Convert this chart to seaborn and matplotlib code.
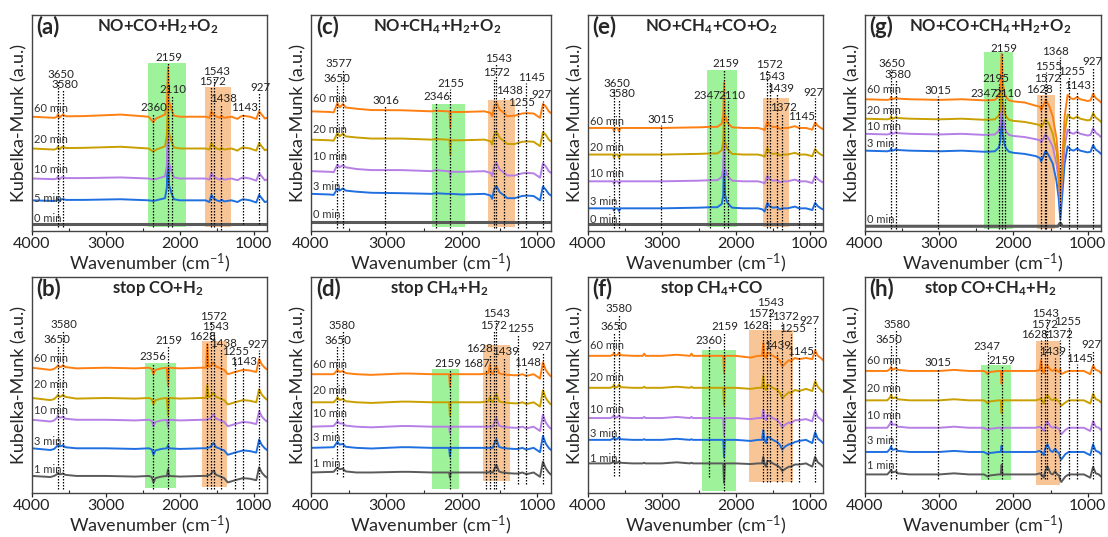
import matplotlib
matplotlib.use("Agg")
import matplotlib.pyplot as plt
import seaborn as sns

# ---------------- data ----------------
# y values are relative to each trace baseline, in % of panel height
flat_x = [4000, 820]
flat_y = [0, 0]

# (a) NO+CO+H2+O2
a_x = [4000, 3700, 3660, 3650, 3630, 3600, 3580, 3540, 3300, 2800,
       2420, 2360, 2320, 2200, 2175, 2159, 2145, 2110, 2080, 2000,
       1650, 1600, 1572, 1545, 1500, 1460, 1438, 1400, 1300, 1220,
       1180, 1143, 1050, 965, 927, 880, 850, 820]
a_60 = [0, -0.5, 0, 1.2, -0.5, 0.5, 1.0, 0.2, 0.3, 1.0,
        0, -2.5, -0.8, 1.0, 6, 23, 7, 3, 0.5, 0,
        0, -0.5, 2.5, 1.0, 0, -0.5, 0.5, -0.5, 0, -1.0,
        0, 0.5, 0, -1.0, 2.5, 0.5, -0.8, -0.5]
a_20 = [0, -0.5, 0, 1.0, -0.5, 0.5, 0.8, 0.2, 0.3, 0.8,
        0, -1.5, -0.5, 1.0, 6, 25, 7, 3, 0.5, 0,
        0, -0.5, 2.5, 1.0, 0, -0.5, 0.3, -0.5, 0, -1.0,
        0, 0.5, 0, -1.0, 2.5, 0.5, -0.8, -0.5]
a_10 = [0, -0.3, 0, 1.0, -0.5, 0.5, 0.6, 0.2, 0.2, 0.5,
        0, -0.5, -0.2, 1.0, 6, 27, 7, 3, 0.5, 0,
        0, -0.5, 2.5, 1.0, 0, -0.5, 0.3, -0.5, 0, -0.8,
        0, 0.5, 0, -1.0, 2.5, 0.5, -0.8, -0.5]
a_5 = [0, -0.3, 0, 1.0, -0.5, 0.5, 0.6, 0.2, 0.2, 0.5,
       0, -0.3, 0, 1.0, 6, 30, 7, 3, 0.5, 0,
       0, -0.8, 2.5, 1.0, 0, -0.5, 0.3, -0.5, 0, -0.8,
       0, 0.5, 0, -1.0, 2.5, 0.5, -0.8, -0.5]
a_offsets = [3.4, 14.2, 24.3, 38.2, 52.9]
a_times = ["0 min", "5 min", "10 min", "20 min", "60 min"]
a_time_y = [5.7, 15.0, 28.6, 42.3, 56.7]

# (c) NO+CH4+H2+O2
c_x = [4000, 3750, 3700, 3650, 3620, 3577, 3540, 3400, 3200, 2800,
       2400, 2346, 2200, 2165, 2155, 2145, 2000, 1700, 1620, 1600,
       1572, 1543, 1500, 1470, 1438, 1400, 1300, 1255, 1200, 1145,
       1050, 965, 927, 890, 850, 820]
c_60 = [0, -0.3, -0.5, 3.8, 1.8, 3.4, 1.8, 1.2, 0.6, 0.5,
        0, 0.3, 0, 0, -7.7, -0.3, -0.3, 0, -0.8, -2.3,
        2.3, 3.8, 0.8, 0, -0.8, -2.3, -2.0, -1.5, -1.0, -0.8,
        -1.0, -3.0, 3.4, 2.3, 0, -0.8]
c_20 = [0, -0.3, -0.5, 3.0, 1.5, 2.8, 1.5, 1.0, 0.5, 0.5,
        0, 0.3, 0, 0, -7.0, -0.3, -0.3, 0, -0.8, -2.3,
        2.3, 3.8, 0.8, 0, -0.8, -2.0, -2.0, -1.5, -1.0, -0.8,
        -1.0, -3.0, 3.4, 2.3, 0, -0.8]
c_10 = [0, -0.3, -0.5, 3.0, 1.8, 2.8, 1.8, 1.0, 0.5, 0.5,
        0, 0.5, 0, 0, -3.0, -0.3, -0.3, 0, -0.8, -2.3,
        2.3, 3.8, 0.8, 0, -0.8, -2.0, -2.0, -1.5, -1.0, -0.8,
        -1.0, -3.0, 3.6, 2.3, 0, -0.8]
c_3 = [0, -0.3, -0.5, 2.5, 1.5, 2.5, 1.5, 1.0, 0.5, 0.3,
       0, 0.3, 0, 0, 0, 0, -0.3, 0, -0.8, -2.3,
       2.3, 3.6, 0.8, 0, -0.8, -2.0, -2.0, -1.5, -1.0, -0.8,
       -1.0, -3.0, 3.4, 2.0, 0, -0.8]
c_offsets = [4.3, 17.2, 27.7, 42.3, 55.4]
c_times = ["0 min", "3 min", "10 min", "20 min", "60 min"]
c_time_y = [7.5, 20.5, 34.6, 47.2, 61.5]

# (e) NO+CH4+CO+O2
e_x = [4000, 3700, 3660, 3650, 3630, 3600, 3580, 3560, 3400, 3000,
       2500, 2347, 2250, 2190, 2170, 2159, 2145, 2120, 2100, 2050,
       1900, 1700, 1640, 1610, 1572, 1545, 1500, 1439, 1400, 1372,
       1300, 1200, 1145, 1050, 965, 927, 890, 850, 820]
e_60 = [0, 0, 0, -1.5, 0, 0, -1.5, 0, 0, 0,
        0.3, 0.5, 0.5, 2, 6, 21, 6, 3, 2, 0.3,
        0, 0, -0.5, -1.0, 3.0, 1.2, 0.5, 0.5, -0.5, 0,
        0, 0.8, 0, 0, -0.8, 2.5, 1.0, 0, -0.5]
e_20 = [0, 0, 0, -1.5, 0, 0, -1.5, 0, 0, 0,
        0.3, 0.5, 0.5, 2, 6, 23, 6, 3, 2, 0.3,
        0, 0, -0.5, -1.0, 3.0, 1.0, 0.3, 0.5, -0.5, 0,
        0, 0.8, 0, 0, -0.8, 2.5, 1.0, 0, -0.5]
e_10 = [0, 0, 0, -1.2, 0, 0, -1.2, 0, 0, 0,
        0.3, 0.5, 0.5, 2, 6, 25, 6, 3, 2, 0.3,
        0, 0, -0.5, -1.0, 2.5, 1.0, 0.3, 0.5, -0.5, 0,
        0, 0.8, 0, 0, -0.8, 2.5, 1.0, 0, -0.5]
e_3 = [0, 0, 0, -1.0, 0, 0, -1.2, 0, 0, 0,
       0.3, 0.5, 0.5, 2, 6, 27, 6, 3, 2, 0.3,
       0, 0, -0.5, -1.5, 2.5, 1.0, 0.3, 0.5, -0.5, 0,
       0, 0.8, 0, 0, -0.8, 2.5, 1.0, 0, -0.5]
e_offsets = [3.4, 10.5, 23.0, 35.4, 47.7]
e_times = ["0 min", "3 min", "10 min", "20 min", "60 min"]
e_time_y = [5.4, 13.8, 26.6, 38.5, 50.5]

# (g) NO+CO+CH4+H2+O2
g_x = [4000, 3700, 3660, 3650, 3630, 3600, 3580, 3560, 3400, 3000,
       2700, 2400, 2347, 2250, 2195, 2175, 2159, 2145, 2120, 2100,
       2060, 2000, 1850, 1700, 1640, 1628, 1600, 1572, 1555, 1520,
       1470, 1420, 1390, 1368, 1345, 1310, 1270, 1230, 1190, 1143,
       1100, 1000, 960, 927, 890, 850, 820]
g_60 = [0, -0.3, 0, 1.0, 0, 0.3, 0.8, 0.3, 0, -0.3,
        0, -0.5, -0.5, -0.3, 1.5, 5, 21, 8, 3, 1,
        -0.5, -1.0, -1.5, -3.0, -3.5, -5.0, -3.0, -1.0, -1.0, -3.0,
        -8, -18, -30, -47, -30, -8, 2, 0.5, 0, 1.0,
        0, -0.8, -0.5, 2.5, 0.5, -0.5, -1.5]
g_20 = [0, -0.3, 0, 1.0, 0, 0.3, 0.8, 0.3, 0, -0.3,
        0, -0.5, -0.5, -0.3, 1.5, 5, 22, 8, 3, 1,
        -0.5, -1.0, -1.5, -2.5, -3.0, -4.0, -2.5, -0.5, -0.8, -2.5,
        -7, -15, -25, -38, -25, -7, 2, 0.5, 0, 1.0,
        0, -0.8, -0.5, 2.5, 0.5, -0.5, -1.5]
g_10 = [0, -0.3, 0, 1.0, 0, 0.3, 0.8, 0.3, 0, -0.3,
        0, -0.5, -0.5, -0.3, 1.5, 5, 23, 8, 3, 1,
        -0.5, -1.0, -1.5, -2.5, -3.0, -4.0, -2.5, -0.5, -0.8, -2.5,
        -6, -14, -22, -33, -22, -6, 2, 0.5, 0, 1.0,
        0, -0.8, -0.5, 2.5, 0.5, -0.5, -1.5]
g_3 = [0, -0.3, 0, 1.0, 0, 0.3, 0.8, 0.3, 0, -0.3,
       0, -0.5, -0.5, -0.3, 1.5, 5, 25, 8, 3, 1,
       -0.5, -1.0, -1.5, -2.5, -3.5, -5.0, -3.0, -0.5, -0.5, -2.5,
       -6, -14, -22, -32, -22, -6, 2, 0.5, 0, 1.0,
       0, -0.8, -0.5, 2.5, 0.5, -0.5, -1.5]
g_0x = [4000, 1400, 1368, 1340, 820]
g_0 = [0, 0, 1.5, 0, 0]
g_offsets = [2.2, 37.2, 45.0, 52.0, 61.0]
g_times = ["0 min", "3 min", "10 min", "20 min", "60 min"]
g_time_y = [5.1, 40.3, 48.4, 55.8, 65.4]

# (b) stop CO+H2
b_x = [4000, 3750, 3700, 3660, 3650, 3630, 3600, 3580, 3550, 3400,
       3000, 2600, 2420, 2380, 2356, 2330, 2250, 2175, 2159, 2145,
       2000, 1700, 1645, 1628, 1612, 1590, 1572, 1543, 1510, 1470,
       1438, 1400, 1350, 1300, 1255, 1200, 1143, 1050, 965, 927,
       890, 850, 820]
b_60 = [0, -1.0, -0.5, 0.5, 1.2, 0.3, 0.5, 1.2, 0.3, -0.3,
        0, -0.3, 0, -0.5, -3.0, -1.0, -0.3, 0, -8.5, 0,
        -0.3, 0, 0, 11, 0.5, 0.5, 1.2, 2.5, 0.5, 0,
        -0.5, -1.0, -3.0, -2.5, -2.0, -1.5, -1.0, -1.3, -2.0, 4.0,
        1.5, 0, -0.8]
b_20 = [0, -1.0, -0.5, 0.8, 1.5, 0.5, 0.8, 1.5, 0.5, -0.3,
        0, -0.3, 0, -0.5, -3.0, -1.0, -0.3, 0, -8.0, 0,
        -0.3, 0, 0, 6, 0.5, 0.5, 1.2, 2.5, 0.5, 0,
        -0.5, -1.0, -3.0, -2.5, -2.0, -1.5, -1.0, -1.3, -2.0, 4.0,
        1.5, 0, -0.8]
b_10 = [0, -0.8, -0.3, 1.0, 2.0, 1.0, 1.0, 1.5, 0.5, 0,
        0, -0.3, 0, -0.5, -3.0, -1.0, -0.3, 0, -3.5, 0,
        -0.3, 0, 0, 0.3, 0.3, 0.5, 1.2, 2.5, 0.5, 0,
        -0.5, -1.0, -3.0, -2.5, -2.0, -1.5, -1.0, -1.3, -2.0, 4.0,
        1.5, 0, -0.8]
b_3 = [0, -0.8, -0.3, 1.0, 2.0, 1.0, 1.0, 1.5, 0.5, 0,
       0, -0.3, 0, -0.5, -3.0, -1.0, -0.3, 0, 1.5, 0,
       -0.3, 0, 0, 0.3, 0.3, 0.5, 1.2, 2.5, 0.5, 0,
       -0.5, -1.0, -3.0, -2.5, -2.0, -1.5, -1.0, -1.3, -2.0, 4.0,
       1.5, 0, -0.8]
b_1 = [0, -0.5, 0, 0.8, 1.5, 0.8, 0.8, 1.2, 0.5, 0,
       0, -0.3, 0, -0.5, -3.0, -1.0, -0.3, 0, 3.0, 0,
       -0.3, 0, 0, 0.3, 0.3, 0.5, 1.2, 2.5, 0.5, 0,
       -0.5, -1.0, -3.0, -2.5, -2.0, -1.5, -1.0, -1.3, -2.0, 4.0,
       1.5, 0, -0.8]
b_offsets = [7.9, 20.7, 33.9, 44.0, 58.0]
b_times = ["1 min", "3 min", "10 min", "20 min", "60 min"]
b_time_y = [11.0, 23.8, 38.3, 50.2, 62.2]

# (d) stop CH4+H2
d_x = [4000, 3700, 3660, 3650, 3620, 3580, 3540, 3400, 3200, 2800,
       2700, 2400, 2200, 2170, 2159, 2148, 2000, 1750, 1687, 1650,
       1628, 1610, 1590, 1572, 1543, 1510, 1470, 1439, 1400, 1300,
       1255, 1200, 1148, 1050, 965, 927, 890, 850, 820]
d_60 = [0, 0, 1.5, 2.0, 1.0, 1.5, 0.5, 0, -0.3, 0.3,
        0.3, 0, 0, 0, -6.0, 0, 0, 0, 0.3, 0.5,
        4.5, 0.5, 0, 2.0, 3.5, 0.5, 0, 0, -0.3, -0.5,
        -0.5, 0, -0.8, 0, -2.0, 5.5, 2.0, 0, -1.0]
d_20 = [0, 0, 1.5, 2.3, 1.0, 1.5, 0.5, 0, -0.3, 0.3,
        0.3, 0, 0, 0, -6.5, 0, 0, 0, 0.3, 0.5,
        2.5, 0.5, 0, 2.0, 3.8, 0.5, 0, 0, -0.3, -0.5,
        -0.5, 0, -0.8, 0, -2.0, 5.5, 2.0, 0, -1.0]
d_10 = [0, 0.3, 2.0, 2.5, 1.5, 1.5, 0.5, 0, -0.3, 0.3,
        0.3, 0, 0, 0, -3.0, 0, 0, 0, 0, 0,
        0, 0, 0, 2.0, 4.0, 0.5, 0, 0, -0.3, -0.5,
        -0.5, 0, -0.8, 0, -2.0, 5.5, 2.0, 0, -1.0]
d_3 = [0, 0.3, 2.3, 2.8, 1.5, 1.8, 0.5, 0, -0.3, 0.3,
       0.3, 0, 0, 0, -4.0, 0, 0, 0, 0, 0,
       0, 0, 0, 2.0, 4.0, 0.5, 0, 0, -0.3, -0.5,
       -0.5, 0, -0.8, 0, -2.0, 5.5, 2.0, 0, -1.0]
d_1 = [0, 0.3, 2.0, 2.3, 1.5, 1.8, 0.5, 0, 0, 0.3,
       0.3, 0, 0, 0, -2.5, 0, 0, 0, 0, 0,
       0.5, 0, 0, 1.5, 3.5, 0.5, 0, 0, -0.3, -0.5,
       -0.5, 0, -0.8, 0, -2.0, 5.0, 2.0, 0, -1.0]
d_offsets = [9.5, 20.9, 30.7, 42.0, 55.0]
d_times = ["1 min", "3 min", "10 min", "20 min", "60 min"]
d_time_y = [13.6, 25.6, 36.9, 47.3, 59.4]

# (f) stop CH4+CO
f_x = [4000, 3700, 3660, 3650, 3630, 3600, 3580, 3560, 3400, 3260,
       3240, 3220, 3000, 2800, 2620, 2600, 2580, 2400, 2360, 2200,
       2170, 2159, 2148, 2000, 1800, 1700, 1645, 1628, 1612, 1590,
       1572, 1543, 1500, 1439, 1400, 1372, 1330, 1280, 1255, 1200,
       1145, 1050, 965, 927, 890, 850, 820]
f_60 = [0, 0, 0.5, 1.5, 0, 0.5, 1.5, 0.3, 0, 0,
        1.0, 0, 0, 0.5, 0, 1.0, 0, 0, 0, 0,
        0, -8.0, 0, 0, -0.8, 0, 0, 6.0, 0, -1.0,
        1.5, 1.0, 0, -1.0, -2.5, -5.0, -3.5, -2.0, -2.5, -1.0,
        -1.5, -1.0, -1.5, 2.5, 0, -1.0, -2.0]
f_20 = [0, 0, 0.5, 1.5, 0, 0.5, 1.5, 0.3, 0, 0,
        0.5, 0, 0, 0.5, 0, 0.5, 0, 0, 0, 0,
        0, -8.0, 0, 0, -0.5, 0, 0, 5.5, 0, -1.0,
        1.5, 1.0, 0, -1.0, -2.5, -5.0, -3.5, -2.0, -2.5, -1.0,
        -1.5, -0.5, -1.5, 3.0, 0.5, -1.0, -2.0]
f_10 = [0, 0, 0.5, 1.5, 0, 0.5, 1.3, 0.3, 0, 0,
        0.5, 0, 0, 0.5, 0, 0.5, 0, 0, 0, 0,
        0, -8.0, 0, 0, -0.5, 0, 0, 4.0, 0, -1.0,
        1.5, 1.0, 0, -1.0, -2.5, -4.5, -3.0, -2.0, -2.5, -1.0,
        -1.0, -0.5, -1.5, 3.5, 0.5, -0.5, -1.5]
f_3 = [0, 0, 0.5, 1.5, 0, 0.5, 1.3, 0.3, 0, 0,
       0.3, 0, 0, 0.5, 0, 0.3, 0, 0, 0, 0,
       0, -8.0, 0, 0, -0.5, 0, 0, 4.5, 0, -1.5,
       1.5, 1.0, 0, -1.0, -2.5, -4.5, -3.0, -2.0, -2.0, -1.0,
       -0.5, 0, -1.5, 3.5, 0.5, -0.5, -1.5]
f_1 = [0, 0, 0.5, 1.2, 0, 0.3, 1.0, 0.3, 0, 0,
       0.3, 0, 0, 0.5, 0, 0.3, 0, 0, 0, 0,
       0, -9.0, 0, 0, -0.3, 0, 0, 3.0, 0, -1.5,
       1.2, 1.0, 0, -1.0, -2.0, -3.5, -2.5, -1.5, -1.5, -0.5,
       -0.5, 0, -1.5, 3.0, 0.5, -0.5, -1.5]
f_offsets = [13.7, 24.6, 34.7, 48.7, 63.5]
f_times = ["1 min", "3 min", "10 min", "20 min", "60 min"]
f_time_y = [16.0, 27.7, 38.6, 53.7, 68.1]

# (h) stop CO+CH4+H2
h_x = [4000, 3700, 3660, 3650, 3630, 3600, 3580, 3560, 3400, 3000,
       2800, 2600, 2400, 2370, 2347, 2320, 2200, 2170, 2159, 2148,
       2000, 1700, 1645, 1628, 1610, 1590, 1572, 1543, 1500, 1470,
       1439, 1410, 1385, 1372, 1355, 1300, 1255, 1200, 1145, 1050,
       965, 927, 890, 850, 820]
h_60 = [0, 0, 1.0, 1.8, 0.5, 1.0, 1.5, 0.5, 0, 0,
        0.5, 0, 0, -0.5, -1.5, -0.5, 0, 0, -6.0, 0,
        0, 0, 0.5, 5.0, 0, -1.0, 1.5, 2.5, 0.5, 0,
        1.0, 0, -0.5, 1.0, -1.5, -0.5, 0, 0, 0, 0,
        -1.5, 2.5, 0.5, 0, -1.0]
h_20 = [0, 0, 1.5, 2.5, 1.0, 1.2, 1.5, 0.5, 0, 0,
        0.5, 0, 0, -0.5, -1.5, -0.5, 0, 0, -6.0, 0,
        0, 0, 0.5, 1.0, -0.5, -1.5, 1.0, 2.5, 0.5, 0,
        1.0, 0, -0.5, -1.5, -2.5, -1.0, 0, 0, 0, 0,
        -1.5, 3.0, 0.5, 0, -1.0]
h_10 = [0, 0, 2.0, 3.0, 1.5, 1.5, 1.5, 0.5, 0, 0,
        0.5, 0, 0, -0.5, -1.0, -0.5, 0, 0, -1.0, 0,
        0, 0, 0.5, 0, -0.5, -1.5, 1.0, 3.0, 0.5, 0,
        0.5, 0, -0.5, -2.0, -3.0, -1.0, 0, 0, 0, 0,
        -1.5, 3.0, 0.5, 0, -1.0]
h_3 = [0, 0, 1.5, 2.5, 1.0, 1.2, 1.5, 0.5, 0, 0,
       0.5, 0, 0, -0.5, -1.0, -0.5, 0, 0, 3.0, 0,
       0, 0, 0.5, 0, -0.5, -1.5, 1.5, 3.5, 0.5, 0,
       1.5, 0, -0.5, -2.5, -3.5, -1.0, 0, 0, 0, 0,
       -1.5, 3.5, 0.5, 0, -1.0]
h_1 = [0, 0, 1.5, 2.2, 1.0, 1.2, 1.5, 0.5, 0, 0,
       0.5, 0, 0, -0.5, -1.0, -0.5, 0, 0, 4.5, 0,
       0, 0, 0.5, 0, -0.5, -1.5, 1.5, 3.8, 0.5, 0,
       1.5, 0, -0.5, -2.5, -3.5, -1.0, 0, 0, 0, 0,
       -1.5, 3.5, 0.5, 0, -1.0]
h_offsets = [8.6, 19.0, 30.2, 42.9, 56.5]
h_times = ["1 min", "3 min", "10 min", "20 min", "60 min"]
h_time_y = [12.8, 24.4, 36.0, 48.3, 61.4]

# peak marks: wavenumber, label x, label y, line bottom
a_marks = [(3650, 3604, 72.5, 1.9), (3580, 3550, 67.9, 1.9), (2360, 2345, 57.0, 1.9),
           (2159, 2150, 80.2, 1.9), (2110, 2097, 65.7, 1.9), (1572, 1562, 69.4, 1.9),
           (1543, 1500, 74.0, 1.9), (1438, 1404, 61.4, -1), (1143, 1121, 57.0, 3.4),
           (927, 914, 66.3, 3.4)]
c_marks = [(3650, 3652, 70.8, 1.5), (3577, 3634, 77.7, 1.5), (3016, 3007, 60.3, 1.5),
           (2346, 2339, 62.3, 1.5), (2155, 2140, 68.5, 1.5), (1572, 1548, 73.4, 1.5),
           (1543, 1521, 80.0, 1.5), (1438, 1377, 65.0, 1.5), (1255, 1210, 59.7, 1.5),
           (1145, 1083, 71.0, 1.5), (927, 944, 63.0, 1.5)]
e_marks = [(3650, 3608, 68.5, 1.5), (3580, 3545, 63.8, 1.5), (3015, 3018, 51.5, 1.5),
           (2347, 2395, 62.6, 1.5), (2159, 2135, 77.7, 1.5), (2110, 2050, 62.6, 1.5),
           (1572, 1550, 77.0, 1.5), (1543, 1514, 71.5, 1.5), (1439, 1401, 65.8, 1.5),
           (1372, 1351, 57.0, -1), (1145, 1104, 53.0, 1.5), (927, 955, 64.3, 1.5)]
g_marks = [(3650, 3637, 77.5, 1.0), (3580, 3556, 72.6, 1.0), (3015, 3018, 65.1, 1.0),
           (2347, 2395, 63.6, 1.0), (2195, 2238, 70.5, 1.0), (2159, 2135, 84.5, 1.0),
           (2110, 2070, 63.6, 1.0), (1628, 1650, 65.4, 1.0), (1572, 1543, 70.5, 1.0),
           (1555, 1525, 76.3, 1.0), (1368, 1430, 83.0, 1.0), (1255, 1220, 74.0, 1.0),
           (1143, 1139, 67.4, 1.0), (927, 937, 78.3, 1.0)]
b_marks = [(3580, 3568, 78.2, 1.7), (3650, 3658, 71.2, 1.7), (2356, 2358, 63.0, 1.7),
           (2159, 2147, 70.8, 1.7), (1628, 1690, 72.3, 1.7), (1572, 1548, 81.6, 1.7),
           (1543, 1517, 77.0, 1.7), (1438, 1404, 69.4, 1.7), (1255, 1251, 65.3, 1.7),
           (1143, 1139, 60.7, 1.7), (927, 955, 68.9, 1.7)]
d_marks = [(3580, 3596, 77.5, 7.4), (3650, 3650, 70.7, 9.0), (2159, 2181, 59.8, 1.7),
           (1687, 1810, 59.8, 1.7), (1628, 1765, 66.7, 1.7), (1572, 1584, 77.7, 1.7),
           (1543, 1544, 82.9, 1.7), (1439, 1420, 65.3, 1.7), (1255, 1225, 76.0, 4.0),
           (1148, 1135, 60.5, 4.0), (927, 947, 67.9, 4.0)]
f_marks = [(3580, 3578, 85.5, 8.0), (3650, 3650, 77.0, 8.0), (2360, 2363, 70.8, 7.5),
           (2159, 2152, 77.0, 0.8), (1628, 1740, 77.4, 5.0), (1572, 1659, 82.9, 5.0),
           (1543, 1525, 88.3, 5.0), (1439, 1435, 68.1, 5.0), (1372, 1323, 81.6, 5.0),
           (1255, 1233, 76.2, 5.0), (1145, 1121, 65.5, 5.0), (927, 1000, 79.8, 5.0)]
h_marks = [(3580, 3567, 78.0, 6.5), (3650, 3674, 71.0, 6.5), (3015, 3018, 60.2, 6.5),
           (2347, 2362, 67.9, 6.5), (2159, 2161, 61.4, 6.5), (1628, 1723, 73.3, 6.5),
           (1572, 1580, 78.0, 6.5), (1543, 1571, 83.3, 6.5), (1372, 1384, 73.3, 6.5),
           (1439, 1469, 65.3, 6.5), (1255, 1277, 79.5, 6.5), (1145, 1112, 62.2, 6.5),
           (927, 955, 68.7, 6.5)]

# shaded bands: (x_left, x_right, y_bottom, y_top)
a_bands = [(2435, 1922, 1.9, 78.0), (1665, 1310, 1.9, 66.8)]
c_bands = [(2397, 1955, 1.8, 58.8), (1652, 1300, 1.8, 60.6)]
e_bands = [(2392, 1986, 1.8, 74.6), (1635, 1275, 1.8, 61.8)]
g_bands = [(2390, 2005, 0.8, 83.0), (1677, 1440, 0.8, 62.8)]
b_bands = [(2470, 2045, 2.3, 60.3), (1697, 1355, 2.8, 70.4)]
d_bands = [(2393, 2033, 1.7, 57.5), (1718, 1360, 5.4, 68.7)]
f_bands = [(2452, 2000, 0.8, 66.1), (1816, 1230, 5.1, 75.4)]
h_bands = [(2440, 2030, 6.2, 59.4), (1700, 1367, 3.9, 70.4)]

trace_colors = ["#5a5a5a", "#1f6fe0", "#b57fe6", "#c9a000", "#ff8012"]
band_colors = ["#9ef29a", "#f8c596"]

# ---------------- drawing ----------------
sns.set_style("white")
plt.rcParams["font.family"] = ["Lato", "DejaVu Sans"]
plt.rcParams["mathtext.fontset"] = "custom"
plt.rcParams["mathtext.rm"] = "Lato"
plt.rcParams["mathtext.bf"] = "Lato:bold"
plt.rcParams["mathtext.it"] = "Lato:italic"

fig = plt.figure(figsize=(11.08, 5.37), dpi=100)
W, H = 1108, 537
col_left = [32, 311, 588, 865]
col_width = [235, 240, 235, 236]
row_top = [15, 277]
ax_h = 216


def draw_panel(col, row, tag, title, title_x, traces, offsets, times, time_y, marks, bands, first_flat):
    ax = fig.add_axes([col_left[col] / W, 1 - (row_top[row] + ax_h) / H,
                       col_width[col] / W, ax_h / H])
    for (x0, x1, y0, y1), bc in zip(bands, band_colors):
        ax.fill_between([x0, x1], [y0, y0], [y1, y1], color=bc, lw=0, zorder=0)
    for i, ((tx, ty), off) in enumerate(zip(traces, offsets)):
        lw = 2.2 if (i == 0 and first_flat) else 1.4
        sns.lineplot(x=tx, y=[v + off for v in ty], ax=ax, color=trace_colors[i],
                     lw=lw, sort=False, estimator=None, zorder=2)
    for wn, lx, ly, bot in marks:
        ax.vlines(wn, bot, ly - 2.6, colors="black", linestyles=(0, (1.2, 1.2)),
                  lw=0.9, zorder=3)
        ax.text(lx, ly, str(wn), ha="center", va="center", fontsize=8.3,
                color="#222222", zorder=4)
    for lab, ty in zip(times, time_y):
        ax.text(3975, ty, lab, ha="left", va="center", fontsize=8,
                color="#333333", zorder=4)
    ax.text(0.02, 0.945, tag, transform=ax.transAxes, ha="left", va="center",
            fontsize=16, fontweight="bold")
    ax.text(title_x, 0.945, title, transform=ax.transAxes, ha="center", va="center",
            fontsize=12, fontweight="bold")
    ax.set_xlim(4000, 820)
    ax.set_ylim(0, 100)
    ax.set_yticks([])
    ax.set_xticks([4000, 3000, 2000, 1000])
    ax.set_xticks([3500, 2500, 1500], minor=True)
    ax.tick_params(axis="x", which="major", direction="out", length=3, width=0.9,
                   pad=1, labelsize=11.5, colors="#222222", bottom=True)
    ax.tick_params(axis="x", which="minor", direction="in", length=2, width=0.8, bottom=True)
    ax.set_xlabel(r"Wavenumber (cm$^{-1}$)", fontsize=13, labelpad=0.5)
    ax.set_ylabel("Kubelka-Munk (a.u.)", fontsize=13, labelpad=3)
    for s in ax.spines.values():
        s.set_color("#444444")
        s.set_linewidth(1.0)
    return ax


draw_panel(0, 0, "(a)", r"NO+CO+H$_\mathbf{2}$+O$_\mathbf{2}$", 0.534,
           [(flat_x, flat_y), (a_x, a_5), (a_x, a_10), (a_x, a_20), (a_x, a_60)],
           a_offsets, a_times, a_time_y, a_marks, a_bands, True)
draw_panel(1, 0, "(c)", r"NO+CH$_\mathbf{4}$+H$_\mathbf{2}$+O$_\mathbf{2}$", 0.524,
           [(flat_x, flat_y), (c_x, c_3), (c_x, c_10), (c_x, c_20), (c_x, c_60)],
           c_offsets, c_times, c_time_y, c_marks, c_bands, True)
draw_panel(2, 0, "(e)", r"NO+CH$_\mathbf{4}$+CO+O$_\mathbf{2}$", 0.526,
           [(flat_x, flat_y), (e_x, e_3), (e_x, e_10), (e_x, e_20), (e_x, e_60)],
           e_offsets, e_times, e_time_y, e_marks, e_bands, True)
draw_panel(3, 0, "(g)", r"NO+CO+CH$_\mathbf{4}$+H$_\mathbf{2}$+O$_\mathbf{2}$", 0.53,
           [(g_0x, g_0), (g_x, g_3), (g_x, g_10), (g_x, g_20), (g_x, g_60)],
           g_offsets, g_times, g_time_y, g_marks, g_bands, True)
draw_panel(0, 1, "(b)", r"stop CO+H$_\mathbf{2}$", 0.537,
           [(b_x, b_1), (b_x, b_3), (b_x, b_10), (b_x, b_20), (b_x, b_60)],
           b_offsets, b_times, b_time_y, b_marks, b_bands, False)
draw_panel(1, 1, "(d)", r"stop CH$_\mathbf{4}$+H$_\mathbf{2}$", 0.533,
           [(d_x, d_1), (d_x, d_3), (d_x, d_10), (d_x, d_20), (d_x, d_60)],
           d_offsets, d_times, d_time_y, d_marks, d_bands, False)
draw_panel(2, 1, "(f)", r"stop CH$_\mathbf{4}$+CO", 0.526,
           [(f_x, f_1), (f_x, f_3), (f_x, f_10), (f_x, f_20), (f_x, f_60)],
           f_offsets, f_times, f_time_y, f_marks, f_bands, False)
draw_panel(3, 1, "(h)", r"stop CO+CH$_\mathbf{4}$+H$_\mathbf{2}$", 0.53,
           [(h_x, h_1), (h_x, h_3), (h_x, h_10), (h_x, h_20), (h_x, h_60)],
           h_offsets, h_times, h_time_y, h_marks, h_bands, False)

fig.savefig("out.png", dpi=100)
